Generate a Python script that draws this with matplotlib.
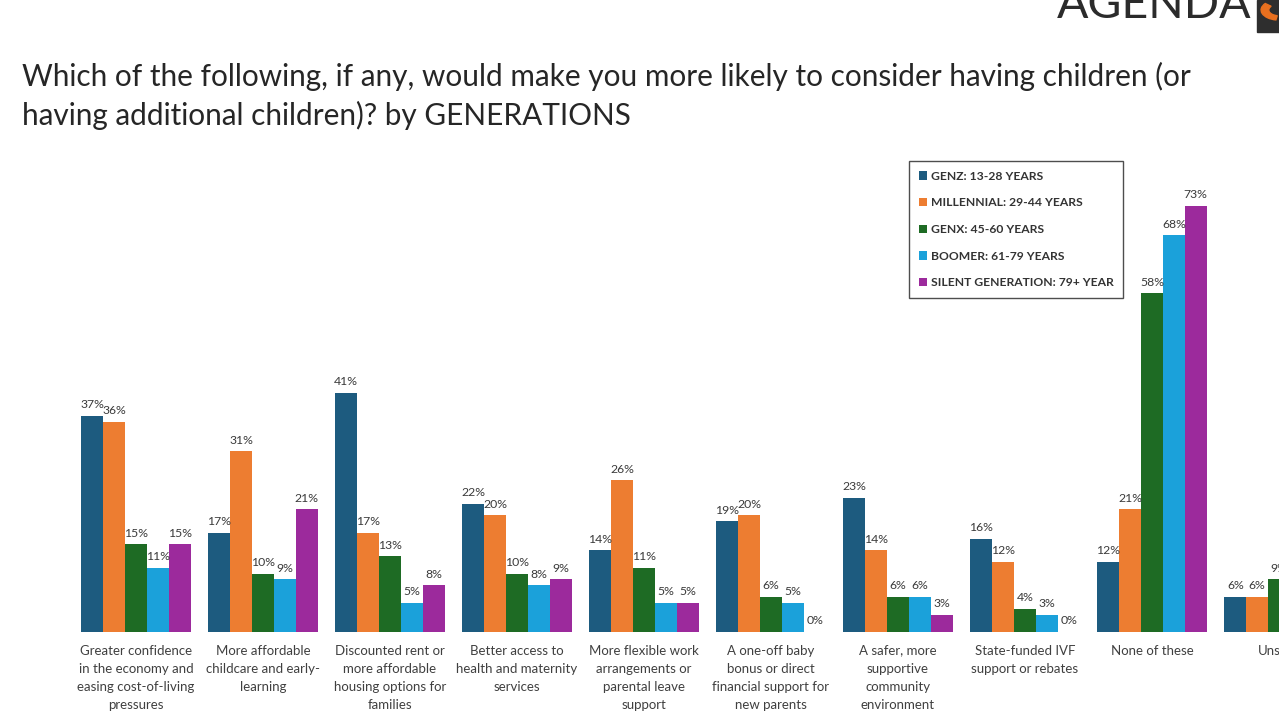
import matplotlib
matplotlib.use("Agg")
import matplotlib.pyplot as plt
import numpy as np
from matplotlib.patches import Rectangle, Wedge

plt.rcParams['font.family'] = ['Lato', 'DejaVu Sans']

categories = [
    "Greater confidence\nin the economy and\neasing cost-of-living\npressures",
    "More affordable\nchildcare and early-\nlearning",
    "Discounted rent or\nmore affordable\nhousing options for\nfamilies",
    "Better access to\nhealth and maternity\nservices",
    "More flexible work\narrangements or\nparental leave\nsupport",
    "A one-off baby\nbonus or direct\nfinancial support for\nnew parents",
    "A safer, more\nsupportive\ncommunity\nenvironment",
    "State-funded IVF\nsupport or rebates",
    "None of these",
    "Unsure",
]
series_names = [
    "GENZ: 13-28 YEARS",
    "MILLENNIAL: 29-44 YEARS",
    "GENX: 45-60 YEARS",
    "BOOMER: 61-79 YEARS",
    "SILENT GENERATION: 79+ YEAR",
]
genz       = [37, 17, 41, 22, 14, 19, 23, 16, 12, 6]
millennial = [36, 31, 17, 20, 26, 20, 14, 12, 21, 6]
genx       = [15, 10, 13, 10, 11, 6, 6, 4, 58, 9]
boomer     = [11, 9, 5, 8, 5, 5, 6, 3, 68, 8]
silent     = [15, 21, 8, 9, 5, 0, 3, 0, 73, 7]
colors = ["#1D5B7F", "#ED7D31", "#1E6B24", "#1BA1DA", "#9C2A9C"]

series = [genz, millennial, genx, boomer, silent]

fig = plt.figure(figsize=(12.79, 7.2), dpi=100)
ax = fig.add_axes([0.0, 0.1222, 1.0, 0.6486])
x = np.arange(len(categories))
w = 0.172
for i, (vals, name, c) in enumerate(zip(series, series_names, colors)):
    bars = ax.bar(x + (i - 2) * w, vals, width=w, color=c, label=name)
    for b, v in zip(bars, vals):
        ax.annotate(f"{v}%", (b.get_x() + b.get_width() / 2, v),
                    xytext=(0, 4), textcoords="offset points",
                    ha="center", va="bottom", fontsize=8.8, color="#3A3A3A",
                    annotation_clip=True)

ax.set_xlim(-1.07, 8.92)
ax.set_ylim(0, 80)
ax.set_xticks(x)
ax.set_xticklabels(categories, fontsize=9.5, color="#404040", linespacing=1.6, va="top")
ax.tick_params(axis="x", length=0, pad=9)
ax.set_yticks([])
for s in ax.spines.values():
    s.set_visible(False)

leg = ax.legend(loc="upper left", bbox_to_anchor=(909 / 1279, (720 - 161) / 720),
                bbox_transform=fig.transFigure, ncol=1, frameon=True, fancybox=False,
                handlelength=0.7, handleheight=0.7, handletextpad=0.3,
                labelspacing=1.3, borderpad=0.8, borderaxespad=0, edgecolor="#222222",
                prop={'weight': 'bold', 'size': 8.7})
leg.get_frame().set_linewidth(1.0)
for t in leg.get_texts():
    t.set_color("#333333")

fig.text(22 / 1279, 1 - 96 / 720,
         "Which of the following, if any, would make you more likely to consider having children (or\nhaving additional children)? by GENERATIONS",
         fontsize=21.4, color="#262626", ha="left", va="center", linespacing=1.4)

# Logo (cropped at top)
fig.text(1057 / 1279, 1 - 26 / 720, "AGENDA", fontsize=33.5, color="#2B2B2B",
         ha="left", va="bottom", fontweight="normal")
fig.patches.append(Rectangle((1257 / 1279, 1 - 32 / 720), 22 / 1279, 32 / 720,
                             transform=fig.transFigure, color="#2E2E2E"))
fig.patches.append(Wedge((1279 / 1279, 1 - 10 / 720), 0.014, 140, 260, width=0.006,
                         transform=fig.transFigure, color="#E8701F"))

fig.savefig("out.png", dpi=100)
